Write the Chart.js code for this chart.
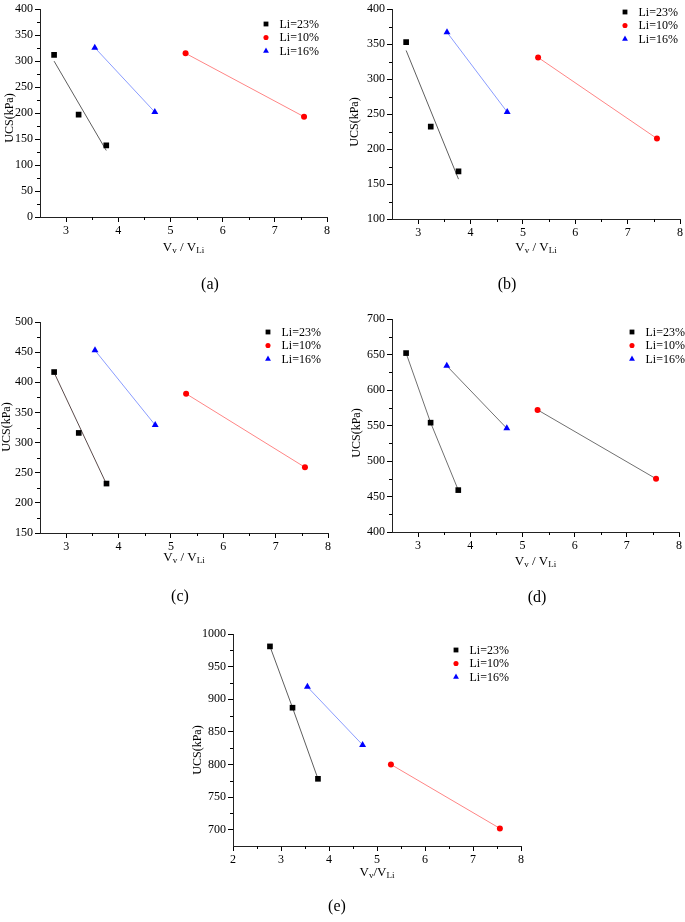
<!DOCTYPE html>
<html>
<head>
<meta charset="utf-8">
<script src="https://cdn.jsdelivr.net/npm/chart.js"></script>
<style>
  html, body { margin: 0; padding: 0; background: #fff; }
  #wrap { position: relative; width: 685px; height: 922px; overflow: hidden; }
  canvas { position: absolute; }
</style>
</head>
<body>
<div id="wrap">
  <canvas id="pa" style="left:0px;top:0px;width:345px;height:300px" width="345" height="300"></canvas>
  <canvas id="pb" style="left:345px;top:0px;width:340px;height:300px" width="340" height="300"></canvas>
  <canvas id="pc" style="left:0px;top:300px;width:345px;height:310px" width="345" height="310"></canvas>
  <canvas id="pd" style="left:345px;top:300px;width:340px;height:310px" width="340" height="310"></canvas>
  <canvas id="pe" style="left:170px;top:610px;width:360px;height:312px" width="360" height="312"></canvas>
</div>
<script>
// series names and x positions (Vv / VLi), same in every panel
const seriesLabels = ['Li=23%', 'Li=10%', 'Li=16%'];
const xLi23 = [2.77, 3.24, 3.77];
const xLi10 = [5.29, 7.56];
const xLi16 = [3.55, 4.70];
const xFit23 = [2.77, 3.77];   // ends of the fitted line for Li=23%

// UCS (kPa)
const ucsA23 = [312, 197, 138], ucsA10 = [315, 193], ucsA16 = [326, 202], fitA23 = [300, 128];
const ucsB23 = [353, 232, 168], ucsB10 = [331, 215], ucsB16 = [367, 253], fitB23 = [341, 157];
const ucsC23 = [417, 316, 232], ucsC10 = [381, 259], ucsC16 = [453, 329], fitC23 = [416, 231];
const ucsD23 = [652, 554, 459], ucsD10 = [572, 475], ucsD16 = [634, 546];
const ucsE23 = [981, 887, 778], ucsE10 = [800, 702], ucsE16 = [919, 830];

// tick values
const xTicksAD = [3, 4, 5, 6, 7, 8];
const xTicksE = [2, 3, 4, 5, 6, 7, 8];
const yTicksA = [0, 50, 100, 150, 200, 250, 300, 350, 400];
const yTicksB = [100, 150, 200, 250, 300, 350, 400];
const yTicksC = [150, 200, 250, 300, 350, 400, 450, 500];
const yTicksD = [400, 450, 500, 550, 600, 650, 700];
const yTicksE = [700, 750, 800, 850, 900, 950, 1000];

const SERIF = "'Liberation Serif', 'Times New Roman', serif";

const panels = [
  { id: 'pa', label: '(a)', xMin: 2.5, xTicks: xTicksAD, yMin: 0, yMax: 400, yTicks: yTicksA,
    y23: ucsA23, y10: ucsA10, y16: ucsA16, fit: fitA23,
    c23: '#5e5e5e', c10: '#ff8585', c16: '#8a9cff',
    yW: 40, xH: 83, pad: { top: 6, right: 18 },
    legend: [266, 24], yTitle: [10, 118], xTitleY: 248, labelPos: [210, 285], spaced: true },
  { id: 'pb', label: '(b)', xMin: 2.5, xTicks: xTicksAD, yMin: 100, yMax: 400, yTicks: yTicksB,
    y23: ucsB23, y10: ucsB10, y16: ucsB16, fit: fitB23,
    c23: '#5e5e5e', c10: '#ff8585', c16: '#8a9cff',
    yW: 47, xH: 81, pad: { top: 6, right: 5 },
    legend: [280, 12], yTitle: [10, 122], xTitleY: 248, labelPos: [162, 285], spaced: true },
  { id: 'pc', label: '(c)', xMin: 2.5, xTicks: xTicksAD, yMin: 150, yMax: 500, yTicks: yTicksC,
    y23: ucsC23, y10: ucsC10, y16: ucsC16, fit: fitC23,
    c23: '#5a4a4a', c10: '#ff8585', c16: '#8a9cff',
    yW: 40, xH: 77, pad: { top: 22, right: 17 },
    legend: [268, 32], yTitle: [7, 127], xTitleY: 258, labelPos: [180, 297], spaced: true },
  { id: 'pd', label: '(d)', xMin: 2.5, xTicks: xTicksAD, yMin: 400, yMax: 700, yTicks: yTicksD,
    y23: ucsD23, y10: ucsD10, y16: ucsD16, fit: null,
    c23: '#707070', c10: '#707070', c16: '#707070',
    yW: 47, xH: 78, pad: { top: 19, right: 6 },
    legend: [287, 32], yTitle: [12, 133], xTitleY: 262, labelPos: [192, 298], spaced: true },
  { id: 'pe', label: '(e)', xMin: 2, xTicks: xTicksE, yMin: 675, yMax: 1000, yTicks: yTicksE,
    y23: ucsE23, y10: ucsE10, y16: ucsE16, fit: null,
    c23: '#5e5e5e', c10: '#ff8585', c16: '#8a9cff',
    yW: 63, xH: 76, pad: { top: 24, right: 9 },
    legend: [286, 40], yTitle: [28, 140], xTitleY: 263, labelPos: [167, 297], spaced: false }
];

function drawMarker(ctx, style, x, y, r, color) {
  ctx.fillStyle = color;
  ctx.beginPath();
  if (style === 'rect') {
    const s = r * Math.SQRT1_2;
    ctx.rect(x - s, y - s, 2 * s, 2 * s);
  } else if (style === 'circle') {
    ctx.arc(x, y, r, 0, Math.PI * 2);
  } else {
    ctx.moveTo(x, y - r);
    ctx.lineTo(x + 0.866 * r, y + 0.5 * r);
    ctx.lineTo(x - 0.866 * r, y + 0.5 * r);
    ctx.closePath();
  }
  ctx.fill();
}

// minor ticks, axis titles, legend and panel letter
const originDecor = {
  id: 'originDecor',
  afterDraw(chart, args, p) {
    const ctx = chart.ctx;
    const area = chart.chartArea;
    const xs = chart.scales.x, ys = chart.scales.y;
    ctx.save();
    ctx.strokeStyle = '#000';
    ctx.lineWidth = 1;
    // minor ticks halfway between the major ones
    ctx.beginPath();
    for (let i = 0; i < p.xTicks.length - 1; i++) {
      const px = Math.round(xs.getPixelForValue((p.xTicks[i] + p.xTicks[i + 1]) / 2)) + 0.5;
      ctx.moveTo(px, area.bottom);
      ctx.lineTo(px, area.bottom + 3);
    }
    for (let i = 0; i < p.yTicks.length - 1; i++) {
      const py = Math.round(ys.getPixelForValue((p.yTicks[i] + p.yTicks[i + 1]) / 2)) + 0.5;
      ctx.moveTo(area.left, py);
      ctx.lineTo(area.left - 3, py);
    }
    ctx.stroke();

    ctx.fillStyle = '#000';
    ctx.textBaseline = 'middle';

    // x title: Vv / VLi with subscripts
    const main = '13px ' + SERIF, sub = '9px ' + SERIF;
    const parts = [['V', main, 0], ['v', sub, 3], [p.spaced ? ' / ' : '/', main, 0], ['V', main, 0], ['Li', sub, 3]];
    let total = 0;
    parts.forEach(q => { ctx.font = q[1]; total += ctx.measureText(q[0]).width; });
    let cx = (area.left + area.right) / 2 - total / 2;
    ctx.textAlign = 'left';
    parts.forEach(q => {
      ctx.font = q[1];
      ctx.fillText(q[0], cx, p.xTitleY + q[2]);
      cx += ctx.measureText(q[0]).width;
    });

    // y title
    ctx.save();
    ctx.translate(p.yTitle[0], p.yTitle[1]);
    ctx.rotate(-Math.PI / 2);
    ctx.textAlign = 'center';
    ctx.font = '12px ' + SERIF;
    ctx.fillText('UCS(kPa)', 0, 0);
    ctx.restore();

    // legend
    ctx.font = '12px ' + SERIF;
    ctx.textAlign = 'left';
    chart.data.datasets.filter(d => d.label).forEach((d, i) => {
      const ly = p.legend[1] + i * 13.5;
      drawMarker(ctx, d.pointStyle, p.legend[0], ly, d.pointRadius * 0.85, d.pointBackgroundColor);
      ctx.fillStyle = '#000';
      ctx.fillText(d.label, p.legend[0] + 13.5, ly + 0.5);
    });

    // panel letter
    ctx.font = '16px ' + SERIF;
    ctx.textAlign = 'center';
    ctx.fillText(p.label, p.labelPos[0], p.labelPos[1]);
    ctx.restore();
  }
};

function pts(xs, ys) {
  return xs.map((x, i) => ({ x: x, y: ys[i] }));
}

function buildChart(p) {
  const datasets = [
    { label: seriesLabels[0], data: pts(xLi23, p.y23), pointStyle: 'rect', pointRadius: 4,
      pointBackgroundColor: '#000', pointBorderColor: '#000', pointBorderWidth: 0, borderColor: p.c23,
      showLine: !p.fit, borderWidth: 1, order: 0 },
    { label: seriesLabels[1], data: pts(xLi10, p.y10), pointStyle: 'circle', pointRadius: 3,
      pointBackgroundColor: '#ff0000', pointBorderColor: '#ff0000', pointBorderWidth: 0, borderColor: p.c10,
      showLine: true, borderWidth: 1, order: 0 },
    { label: seriesLabels[2], data: pts(xLi16, p.y16), pointStyle: 'triangle', pointRadius: 4,
      pointBackgroundColor: '#0000ff', pointBorderColor: '#0000ff', pointBorderWidth: 0, borderColor: p.c16,
      showLine: true, borderWidth: 1, order: 0 }
  ];
  if (p.fit) {
    datasets.push({ label: '', data: pts(xFit23, p.fit), showLine: true, pointRadius: 0,
      borderColor: p.c23, borderWidth: 1, order: 1 });
  }
  const tickFont = { family: SERIF, size: 12 };
  new Chart(document.getElementById(p.id), {
    type: 'scatter',
    data: { datasets: datasets },
    options: {
      responsive: false,
      animation: false,
      layout: { padding: { top: p.pad.top, right: p.pad.right, left: 0, bottom: 0 } },
      plugins: {
        legend: { display: false },
        tooltip: { enabled: false },
        originDecor: p
      },
      scales: {
        x: {
          type: 'linear', min: p.xMin, max: 8,
          afterBuildTicks: s => { s.ticks = p.xTicks.map(v => ({ value: v })); },
          afterFit: s => { s.height = p.xH; },
          ticks: { font: tickFont, color: '#000', padding: 2, maxRotation: 0, callback: v => String(v) },
          grid: { drawOnChartArea: false, drawTicks: true, tickLength: 5, tickColor: '#000' },
          border: { display: true, color: '#222', width: 1 }
        },
        y: {
          type: 'linear', min: p.yMin, max: p.yMax,
          afterBuildTicks: s => { s.ticks = p.yTicks.map(v => ({ value: v })); },
          afterFit: s => { s.width = p.yW; },
          ticks: { font: tickFont, color: '#000', padding: 2, callback: v => String(v) },
          grid: { drawOnChartArea: false, drawTicks: true, tickLength: 5, tickColor: '#000' },
          border: { display: true, color: '#222', width: 1 }
        }
      }
    },
    plugins: [originDecor]
  });
}

panels.forEach(buildChart);
</script>
</body>
</html>
